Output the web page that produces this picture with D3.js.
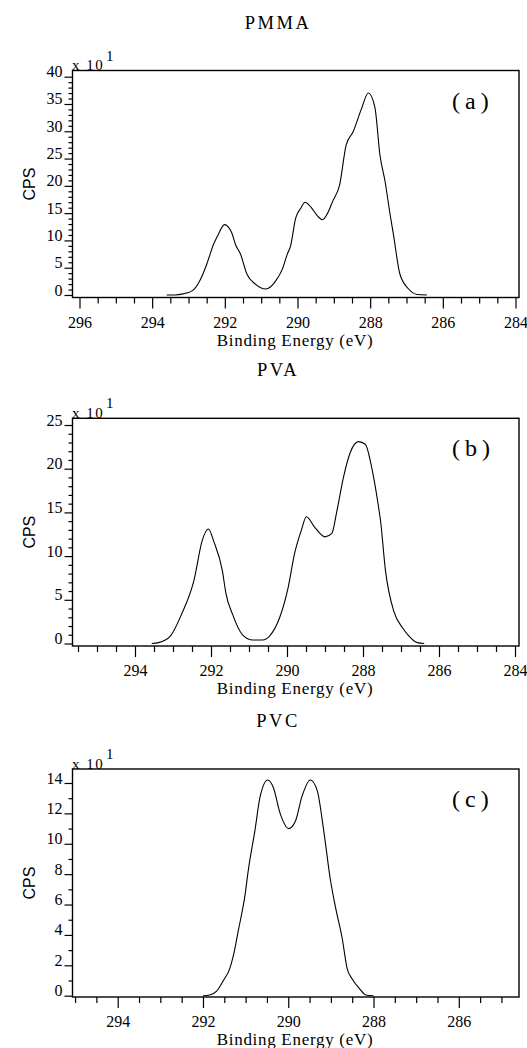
<!DOCTYPE html>
<html><head><meta charset="utf-8">
<script src="https://cdn.jsdelivr.net/npm/d3@7"></script>
<style>
html,body{margin:0;padding:0;background:#fff;}
svg{display:block;}
</style></head>
<body>
<svg id="chart" width="527" height="1048"></svg>
<script>
// ---------- text ----------
const panelTitles = ["PMMA", "PVA", "PVC"];
const panelLetters = ["(a)", "(b)", "(c)"];
const xAxisLabel = "Binding Energy (eV)";
const yAxisLabel = "CPS";
const yMultiplier = "x 10";
const yExponent = "1";

// ---------- data (binding energy eV, counts x10) ----------
const pmmaEnergy = [293.6, 293.38, 293.15, 292.87, 292.69, 292.50, 292.31, 292.18, 292.01, 291.81, 291.71, 291.57, 291.39, 291.16, 290.88, 290.79, 290.60, 290.42, 290.28, 290.19, 290.05, 289.91, 289.79, 289.63, 289.44, 289.31, 289.17, 289.03, 288.84, 288.66, 288.47, 288.24, 288.05, 287.87, 287.73, 287.59, 287.45, 287.36, 287.18, 286.94, 286.71, 286.44];
const pmmaCps = [0, 0, 0.2, 0.9, 2.6, 5.6, 9.3, 11.1, 12.9, 11.4, 9.3, 7.5, 3.8, 2.0, 1.1, 1.3, 2.6, 4.7, 7.5, 9.0, 14.1, 15.9, 17.0, 16.1, 14.4, 13.8, 15.0, 17.2, 20.2, 27.5, 29.9, 34.1, 37.0, 34.4, 25.6, 20.8, 14.7, 11.1, 3.8, 1.1, 0.1, 0];

const pvaEnergy = [293.56, 293.38, 293.07, 292.76, 292.45, 292.23, 292.07, 291.92, 291.70, 291.61, 291.43, 291.17, 290.90, 290.64, 290.46, 290.19, 289.97, 289.80, 289.62, 289.49, 289.27, 289.00, 288.82, 288.69, 288.51, 288.34, 288.12, 287.94, 287.76, 287.58, 287.54, 287.41, 287.19, 286.96, 286.79, 286.57, 286.39];
const pvaCps = [0, 0.1, 0.85, 3.5, 7.2, 11.8, 13.1, 11.6, 8.3, 5.8, 3.3, 1.0, 0.4, 0.4, 0.85, 3.0, 6.4, 10.3, 13.0, 14.5, 13.3, 12.2, 12.6, 15.1, 19.1, 21.8, 23.1, 22.8, 19.9, 15.3, 14.1, 8.4, 3.7, 1.8, 0.85, 0.1, 0];

const pvcEnergy = [292.0, 291.84, 291.68, 291.52, 291.37, 291.29, 291.17, 291.01, 290.94, 290.78, 290.66, 290.48, 290.35, 290.19, 289.99, 289.83, 289.68, 289.48, 289.32, 289.17, 289.01, 288.89, 288.73, 288.62, 288.50, 288.34, 288.18, 288.0];
const pvcCps = [0, 0.05, 0.3, 1.0, 1.8, 2.6, 4.3, 6.7, 8.2, 10.9, 13.1, 14.2, 13.7, 12.0, 11.0, 11.5, 13.1, 14.2, 13.5, 10.9, 7.6, 5.8, 3.7, 1.8, 1.1, 0.5, 0.05, 0];

// ---------- tick labels ----------
const pmmaXTicks = [296, 294, 292, 290, 288, 286, 284];
const pvaXTicks = [294, 292, 290, 288, 286, 284];
const pvcXTicks = [294, 292, 290, 288, 286];
const pmmaYTicks = [0, 5, 10, 15, 20, 25, 30, 35, 40];
const pvaYTicks = [0, 5, 10, 15, 20, 25];
const pvcYTicks = [0, 2, 4, 6, 8, 10, 12, 14];

// ---------- layout ----------
const svg = d3.select("#chart");
const frameLeft = 72.5, frameRight = 519;
const serif = "Liberation Serif";
const sans = "Liberation Sans";

const panels = [
  { title: panelTitles[0], letter: panelLetters[0], energy: pmmaEnergy, cps: pmmaCps,
    xTicks: pmmaXTicks, yTicks: pmmaYTicks,
    xRef: [296, 284], xPx: [79.5, 515.5], yRef: [0, 40], yPx: [295, 76.7],
    top: 70.5, bottom: 297.5, xMinor: [296, 284], yMinor: [0, 40] },
  { title: panelTitles[1], letter: panelLetters[1], energy: pvaEnergy, cps: pvaCps,
    xTicks: pvaXTicks, yTicks: pvaYTicks,
    xRef: [294, 284], xPx: [135, 515], yRef: [0, 25], yPx: [643.5, 425],
    top: 418.3, bottom: 646, xMinor: [295.5, 284], yMinor: [0, 25] },
  { title: panelTitles[2], letter: panelLetters[2], energy: pvcEnergy, cps: pvcCps,
    xTicks: pvcXTicks, yTicks: pvcYTicks,
    xRef: [294, 286], xPx: [117.7, 458.8], yRef: [0, 14], yPx: [995.7, 783],
    top: 769, bottom: 997, xMinor: [295, 285], yMinor: [0, 14] }
];

panels.forEach((p, i) => {
  const g = svg.append("g");
  const x = d3.scaleLinear().domain(p.xRef).range(p.xPx);
  const y = d3.scaleLinear().domain(p.yRef).range(p.yPx);

  // title
  g.append("text").attr("x", 278).attr("y", p.top - 42)
    .attr("text-anchor", "middle").style("font-family", serif).attr("font-size", 18.5)
    .attr("letter-spacing", "2.5px").text(p.title);

  // frame
  g.append("rect").attr("x", frameLeft).attr("y", p.top)
    .attr("width", frameRight - frameLeft).attr("height", p.bottom - p.top)
    .attr("fill", "none").attr("stroke", "#000").attr("stroke-width", 1.4);

  // x minor ticks
  const xMinorVals = d3.range(p.xMinor[1], p.xMinor[0] + 0.001, 0.5)
    .filter(v => !p.xTicks.includes(v));
  g.append("g").attr("transform", `translate(0,${p.bottom})`)
    .call(d3.axisBottom(x).tickValues(xMinorVals).tickSize(6).tickFormat(""))
    .call(s => s.select(".domain").remove())
    .call(s => s.selectAll("line").attr("stroke-width", 1.2));
  // x major ticks
  g.append("g").attr("transform", `translate(0,${p.bottom})`)
    .call(d3.axisBottom(x).tickValues(p.xTicks).tickSize(11).tickFormat(d3.format("d")))
    .call(s => s.select(".domain").remove())
    .call(s => s.selectAll("line").attr("stroke-width", 1.2))
    .call(s => s.selectAll("text").attr("y", 30).attr("dy", 0)
      .style("font-family", serif).style("font-size", "16px").attr("fill", "#000"));

  // y minor ticks
  const yMinorVals = d3.range(p.yMinor[0], p.yMinor[1] + 0.001, 1)
    .filter(v => !p.yTicks.includes(v));
  g.append("g").attr("transform", `translate(${frameLeft},0)`)
    .call(d3.axisLeft(y).tickValues(yMinorVals).tickSize(4).tickFormat(""))
    .call(s => s.select(".domain").remove())
    .call(s => s.selectAll("line").attr("stroke-width", 1.2));
  // y major ticks
  g.append("g").attr("transform", `translate(${frameLeft},0)`)
    .call(d3.axisLeft(y).tickValues(p.yTicks).tickSize(8).tickFormat(d3.format("d")))
    .call(s => s.select(".domain").remove())
    .call(s => s.selectAll("line").attr("stroke-width", 1.2))
    .call(s => s.selectAll("text").attr("x", -10).attr("dy", 0)
      .style("font-family", serif).style("font-size", "16px").attr("fill", "#000"));

  // multiplier
  g.append("text").attr("x", 72).attr("y", p.top - 0.5)
    .style("font-family", serif).attr("font-size", 15).attr("letter-spacing", "1.5px")
    .text(yMultiplier);
  g.append("text").attr("x", 106).attr("y", p.top - 10)
    .style("font-family", serif).attr("font-size", 15).text(yExponent);

  // y label
  g.append("text")
    .attr("transform", `translate(35,${(p.top + p.bottom) / 2}) rotate(-90)`)
    .attr("text-anchor", "middle").style("font-family", sans).attr("font-size", 16)
    .text(yAxisLabel);

  // x label
  g.append("text").attr("x", 295).attr("y", p.bottom + 48)
    .attr("text-anchor", "middle").style("font-family", serif).attr("font-size", 17)
    .attr("letter-spacing", "0.7px").text(xAxisLabel);

  // panel letter
  g.append("text").attr("x", 452).attr("y", p.top + 38)
    .style("font-family", serif).attr("font-size", 24).attr("letter-spacing", "5px")
    .text(p.letter);

  // curve
  const clipId = "clip" + i;
  svg.append("clipPath").attr("id", clipId).append("rect")
    .attr("x", frameLeft).attr("y", p.top)
    .attr("width", frameRight - frameLeft).attr("height", p.bottom - p.top);
  const pts = p.energy.map((e, k) => [e, p.cps[k]]);
  g.append("path").datum(pts)
    .attr("clip-path", `url(#${clipId})`)
    .attr("fill", "none").attr("stroke", "#000").attr("stroke-width", 1.1)
    .attr("stroke-linejoin", "round")
    .attr("d", d3.line().curve(d3.curveMonotoneX).x(d => x(d[0])).y(d => y(d[1])));
});
</script>
</body></html>
